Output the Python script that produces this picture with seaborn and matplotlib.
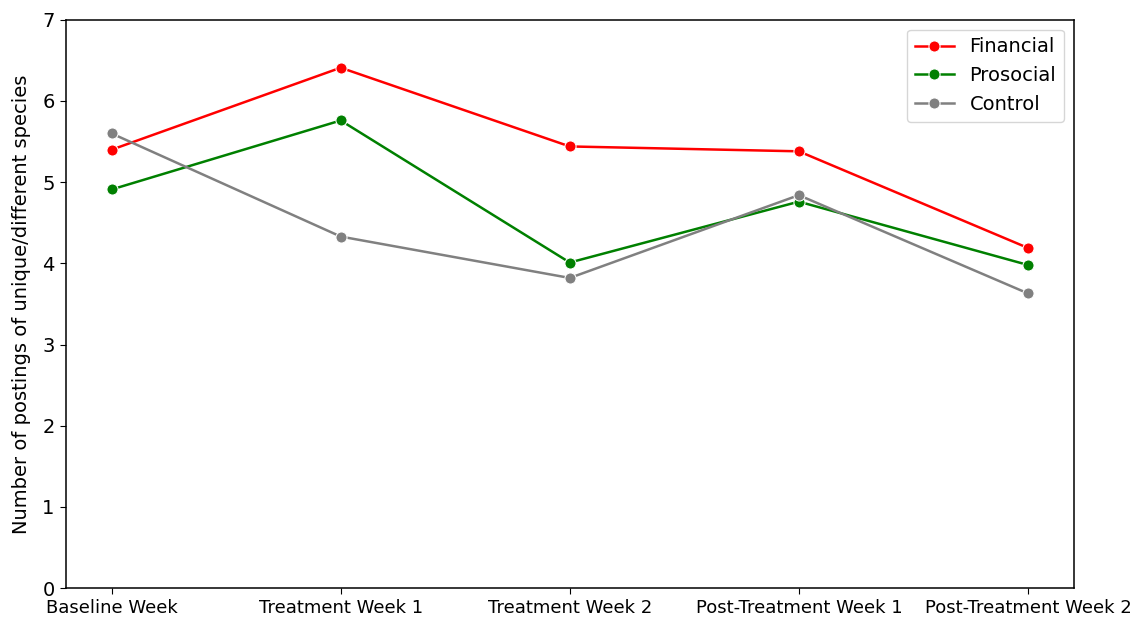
import matplotlib
matplotlib.use("Agg")
import matplotlib.pyplot as plt
import seaborn as sns
import pandas as pd

weeks = ["Baseline Week", "Treatment Week 1", "Treatment Week 2",
         "Post-Treatment Week 1", "Post-Treatment Week 2"]
financial = [5.40, 6.41, 5.44, 5.38, 4.19]
prosocial = [4.91, 5.76, 4.01, 4.76, 3.98]
control = [5.60, 4.33, 3.82, 4.84, 3.63]

groups = {"Financial": financial, "Prosocial": prosocial, "Control": control}
colors = {"Financial": "red", "Prosocial": "green", "Control": "grey"}

rows = []
for name, vals in groups.items():
    for w, v in zip(weeks, vals):
        rows.append({"week": w, "value": v, "group": name})
df = pd.DataFrame(rows)

fig, ax = plt.subplots(figsize=(11.35, 6.19), dpi=100)
fig.subplots_adjust(left=0.058, right=0.946, top=0.968, bottom=0.05)

sns.lineplot(data=df, x="week", y="value", hue="group", palette=colors,
             marker="o", markersize=8, linewidth=1.8, ax=ax)

ax.set_ylim(0, 7)
ax.set_xlabel("")
ax.set_ylabel("Number of postings of unique/different species", fontsize=14, labelpad=8)
ax.tick_params(axis="y", labelsize=14, length=4.5)
ax.tick_params(axis="x", labelsize=13, length=4.5)
for s in ax.spines.values():
    s.set_linewidth(1.1)
ax.legend(title=None, fontsize=14, loc="upper right")

plt.savefig("out.png", dpi=100)
